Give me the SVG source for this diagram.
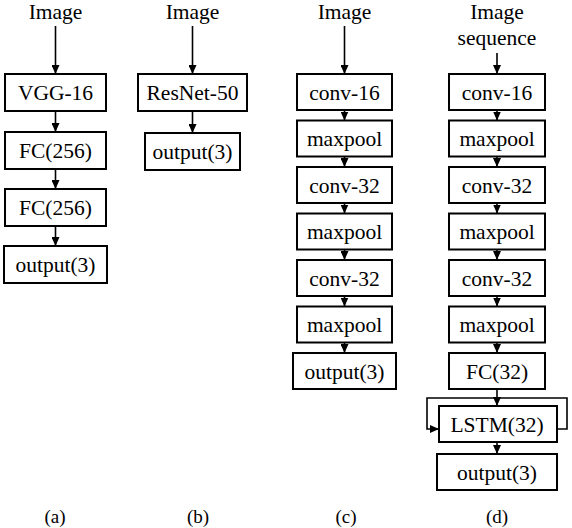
<svg xmlns="http://www.w3.org/2000/svg" width="572" height="528" viewBox="0 0 572 528">
<defs>
<marker id="ah" viewBox="0 0 9 8" refX="9" refY="4" markerWidth="9" markerHeight="8" orient="auto" markerUnits="userSpaceOnUse">
<path d="M0,0 L9,4 L0,8 z" fill="#000"/>
</marker>
<style>
rect{fill:#fff;stroke:#000;stroke-width:2}
text{font-family:'Liberation Serif','DejaVu Serif',serif;font-size:21.5px;fill:#000;text-anchor:middle}
.cap{font-size:19px}
.c line,.c path{stroke:#000;stroke-width:1.6;fill:none}
</style>
</defs>
<rect x="0" y="0" width="572" height="528" style="fill:#fff;stroke:none"/>
<g id="connectors" class="c">
<line x1="55.5" y1="26" x2="55.5" y2="74" marker-end="url(#ah)"/>
<line x1="55.5" y1="111" x2="55.5" y2="132" marker-end="url(#ah)"/>
<line x1="55.5" y1="169" x2="55.5" y2="189" marker-end="url(#ah)"/>
<line x1="55.5" y1="226" x2="55.5" y2="246" marker-end="url(#ah)"/>
<line x1="192.5" y1="26" x2="192.5" y2="74" marker-end="url(#ah)"/>
<line x1="192.5" y1="111" x2="192.5" y2="133" marker-end="url(#ah)"/>
<line x1="344.5" y1="26" x2="344.5" y2="74" marker-end="url(#ah)"/>
<line x1="344.5" y1="110" x2="344.5" y2="120.5" marker-end="url(#ah)"/>
<line x1="344.5" y1="156.5" x2="344.5" y2="167" marker-end="url(#ah)"/>
<line x1="344.5" y1="203" x2="344.5" y2="213.5" marker-end="url(#ah)"/>
<line x1="344.5" y1="249.5" x2="344.5" y2="260" marker-end="url(#ah)"/>
<line x1="344.5" y1="296" x2="344.5" y2="306.5" marker-end="url(#ah)"/>
<line x1="344.5" y1="342.5" x2="344.5" y2="353" marker-end="url(#ah)"/>
<line x1="497" y1="53" x2="497" y2="74" marker-end="url(#ah)"/>
<line x1="497" y1="110" x2="497" y2="120.5" marker-end="url(#ah)"/>
<line x1="497" y1="156.5" x2="497" y2="167" marker-end="url(#ah)"/>
<line x1="497" y1="203" x2="497" y2="213.5" marker-end="url(#ah)"/>
<line x1="497" y1="249.5" x2="497" y2="260" marker-end="url(#ah)"/>
<line x1="497" y1="296" x2="497" y2="306.5" marker-end="url(#ah)"/>
<line x1="497" y1="342.5" x2="497" y2="353" marker-end="url(#ah)"/>
<line x1="497" y1="389" x2="497" y2="406" marker-end="url(#ah)"/>
<line x1="497" y1="442" x2="497" y2="454" marker-end="url(#ah)"/>
<path d="M557,429 H567 V398 H427 V429 H439" marker-end="url(#ah)"/>
</g>
<g font-family="'Liberation Serif', 'DejaVu Serif', serif">
<text x="55.5" y="19">Image</text>
<text x="192.5" y="19">Image</text>
<text x="344.5" y="19">Image</text>
<text x="497" y="19">Image</text>
<text x="497" y="45">sequence</text>
<g id="a1"><rect x="5" y="74" width="101" height="37"/><text x="55.5" y="100">VGG-16</text></g>
<g id="a2"><rect x="5" y="132" width="101" height="37"/><text x="55.5" y="158">FC(256)</text></g>
<g id="a3"><rect x="5" y="189" width="101" height="37"/><text x="55.5" y="215">FC(256)</text></g>
<g id="a4"><rect x="4" y="246" width="103" height="37"/><text x="55.5" y="272">output(3)</text></g>
<g id="b1"><rect x="138" y="74" width="109" height="37"/><text x="192.5" y="100">ResNet-50</text></g>
<g id="b2"><rect x="145" y="133" width="95" height="37"/><text x="192.5" y="159">output(3)</text></g>
<g id="c1"><rect x="297" y="74" width="95" height="36"/><text x="344.5" y="100">conv-16</text></g>
<g id="c2"><rect x="297" y="120.5" width="95" height="36"/><text x="344.5" y="146">maxpool</text></g>
<g id="c3"><rect x="297" y="167" width="95" height="36"/><text x="344.5" y="193">conv-32</text></g>
<g id="c4"><rect x="297" y="213.5" width="95" height="36"/><text x="344.5" y="239">maxpool</text></g>
<g id="c5"><rect x="297" y="260" width="95" height="36"/><text x="344.5" y="286">conv-32</text></g>
<g id="c6"><rect x="297" y="306.5" width="95" height="36"/><text x="344.5" y="332">maxpool</text></g>
<g id="c7"><rect x="293" y="353" width="103" height="36"/><text x="344.5" y="379">output(3)</text></g>
<g id="d1"><rect x="449" y="74" width="96" height="36"/><text x="497" y="100">conv-16</text></g>
<g id="d2"><rect x="449" y="120.5" width="96" height="36"/><text x="497" y="146">maxpool</text></g>
<g id="d3"><rect x="449" y="167" width="96" height="36"/><text x="497" y="193">conv-32</text></g>
<g id="d4"><rect x="449" y="213.5" width="96" height="36"/><text x="497" y="239">maxpool</text></g>
<g id="d5"><rect x="449" y="260" width="96" height="36"/><text x="497" y="286">conv-32</text></g>
<g id="d6"><rect x="449" y="306.5" width="96" height="36"/><text x="497" y="332">maxpool</text></g>
<g id="d7"><rect x="449" y="353" width="96" height="36"/><text x="497" y="379">FC(32)</text></g>
<g id="d8"><rect x="439" y="406" width="118" height="36"/><text x="497" y="432">LSTM(32)</text></g>
<g id="d9"><rect x="437" y="454" width="120" height="36"/><text x="497" y="480">output(3)</text></g>
<text class="cap" x="55" y="523">(a)</text>
<text class="cap" x="198" y="523">(b)</text>
<text class="cap" x="346" y="523">(c)</text>
<text class="cap" x="497" y="523">(d)</text>
</g>
</svg>
